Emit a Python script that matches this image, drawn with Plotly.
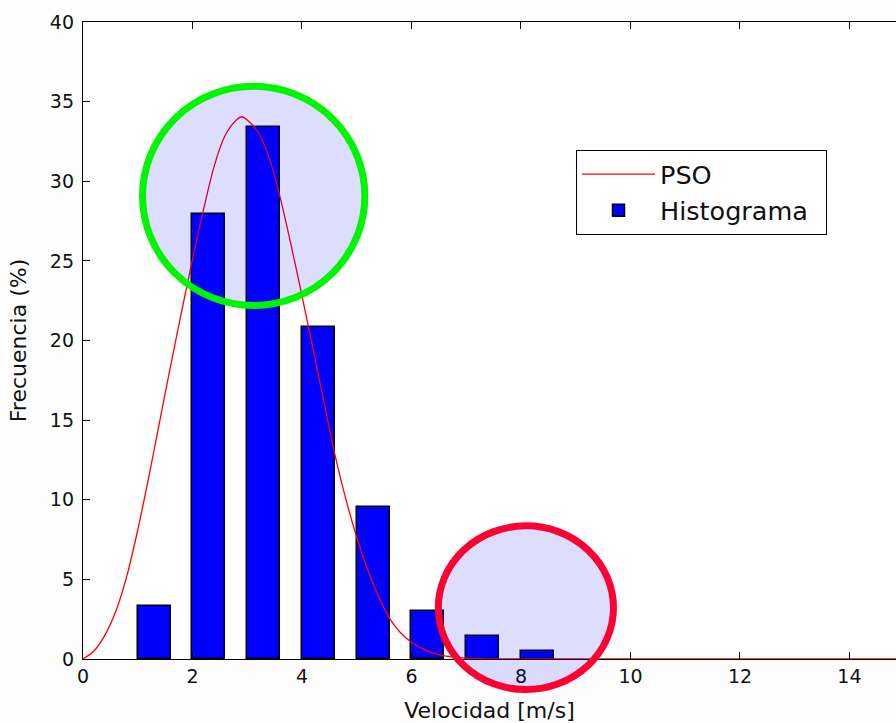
import plotly.graph_objects as go

# Histogram data (bin start, height %)
bin_starts = [1, 2, 3, 4, 5, 6, 7, 8]
hist_values = [3.33, 27.94, 33.4, 20.85, 9.54, 3.0, 1.44, 0.5]

# PSO fitted curve
pso_x = [0.0, 0.2, 0.4, 0.6, 0.8, 1.0, 1.2, 1.4, 1.6, 1.8, 2.0, 2.2, 2.4, 2.6, 2.8, 2.9,
         3.0, 3.2, 3.4, 3.6, 3.8, 4.0, 4.2, 4.4, 4.6, 4.8, 5.0, 5.2, 5.4, 5.6, 5.8, 6.0,
         6.2, 6.4, 6.6, 6.8, 7.0, 7.4, 8.0, 10.0, 12.0, 15.0]
pso_y = [0.0, 0.5, 1.5, 3.0, 5.2, 8.1, 11.4, 14.9, 18.4, 21.8, 25.1, 28.2, 31.0, 32.9, 33.85, 34.05,
         33.85, 33.05, 31.5, 29.0, 26.0, 22.8, 19.5, 16.15, 12.85, 10.05, 7.65, 5.6, 3.9, 2.55, 1.65, 1.05,
         0.65, 0.37, 0.2, 0.1, 0.05, 0.01, 0.0, 0.0, 0.0, 0.0]

x_ticks = [0, 2, 4, 6, 8, 10, 12, 14]
y_ticks = [0, 5, 10, 15, 20, 25, 30, 35, 40]

FONT = "DejaVu Sans"

fig = go.Figure()
fig.add_trace(go.Bar(
    x=bin_starts, y=hist_values, name="Histograma\u2002", legendrank=2,
    width=0.6, offset=0,
    marker=dict(color="#0000ff", line=dict(color="black", width=1.5)),
))
fig.add_trace(go.Scatter(
    x=pso_x, y=pso_y, mode="lines", name="PSO", legendrank=1,
    line=dict(color="#ff0000", width=1.3, shape="spline", smoothing=0.8),
))

# Highlight circles (x in data units, y in paper units so they are not clipped)
fig.add_shape(type="circle", xref="x", yref="paper",
              x0=1.087, x1=5.148, y0=0.555, y1=0.899,
              line=dict(color="#00f500", width=7),
              fillcolor="rgba(0,0,255,0.135)", layer="above")
fig.add_shape(type="circle", xref="x", yref="paper",
              x0=6.49, x1=9.69, y0=-0.048, y1=0.209,
              line=dict(color="#ff0033", width=7),
              fillcolor="rgba(0,0,255,0.135)", layer="above")

fig.update_layout(
    width=896, height=723,
    margin=dict(l=83, r=0, t=22, b=64, autoexpand=False),
    paper_bgcolor="#fdfdfd",
    plot_bgcolor="white",
    font=dict(family=FONT, size=19, color="#111111"),
    showlegend=True,
    legend=dict(
        x=0.6064, y=0.799, xanchor="left", yanchor="top",
        bordercolor="black", borderwidth=1, bgcolor="white",
        font=dict(family=FONT, size=25.5, color="#111111"),
        itemwidth=73, tracegroupgap=0,
    ),
    bargap=0,
)
fig.update_xaxes(
    range=[0, 14.85], tickvals=x_ticks, ticktext=[str(v) for v in x_ticks],
    ticks="inside", ticklen=7, tickwidth=1, tickcolor="black",
    showline=True, linecolor="black", linewidth=1.3, mirror="ticks",
    showgrid=False, zeroline=False, automargin=False,
    title=dict(text="Velocidad [m/s]", font=dict(family=FONT, size=22), standoff=16),
    tickfont=dict(family=FONT, size=19),
)
fig.update_yaxes(
    range=[0, 40], tickvals=y_ticks, ticktext=[str(v) for v in y_ticks],
    ticks="inside", ticklen=7, tickwidth=1, tickcolor="black",
    showline=True, linecolor="black", linewidth=1.3, mirror=False,
    showgrid=False, zeroline=False, automargin=False, ticklabelstandoff=4,
    title=dict(text="Frecuencia (%)", font=dict(family=FONT, size=22), standoff=17),
    tickfont=dict(family=FONT, size=19),
)

fig.write_html("out.html",
               config={"displayModeBar": False},
               post_script="document.body.style.margin='0';document.body.style.overflow='hidden';")
